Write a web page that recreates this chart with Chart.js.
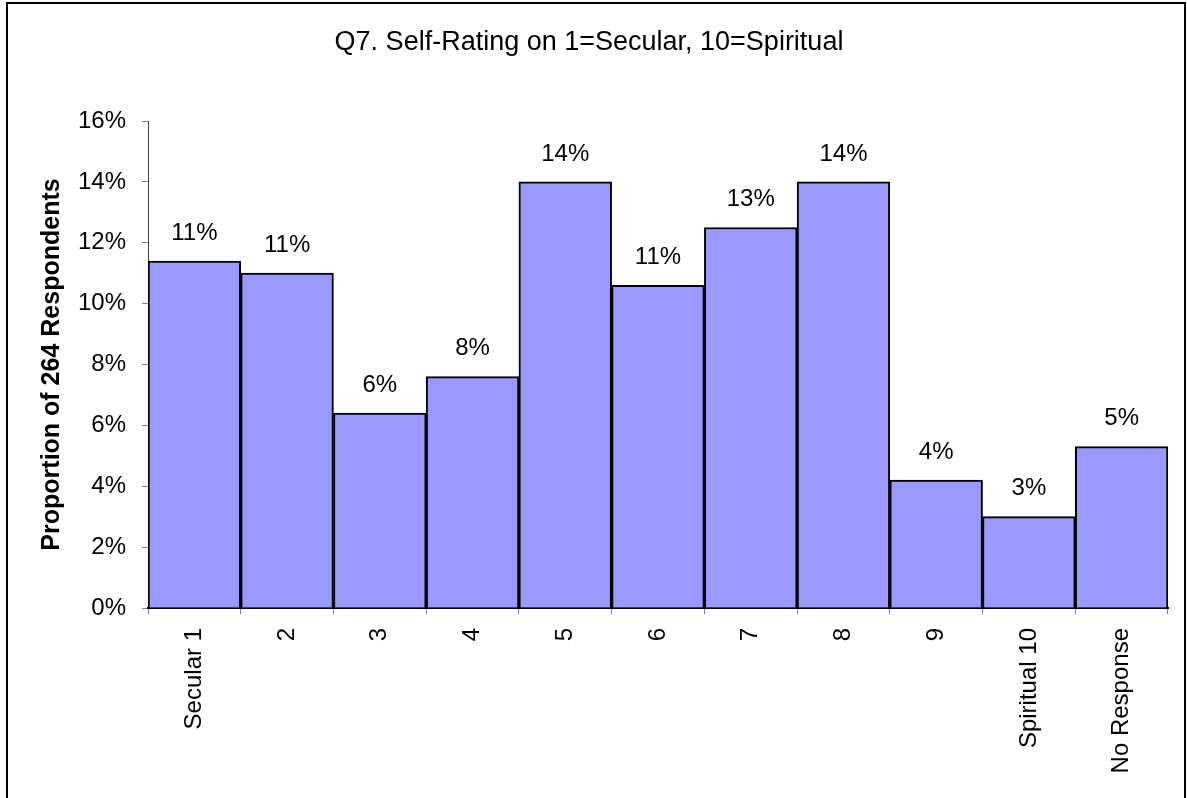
<!DOCTYPE html>
<html>
<head>
<meta charset="utf-8">
<script src="https://cdn.jsdelivr.net/npm/chart.js@4.4.1/dist/chart.umd.min.js"></script>
<style>
    body { margin: 0; background: #fff; }
    #wrap { position: relative; width: 1187px; height: 798px; overflow: hidden; }
    #frame { position: absolute; left: 6px; top: 2px; width: 1176px; height: 820px; border: 2px solid #000; pointer-events: none; }
    canvas { position: absolute; left: 0; top: 0; }
</style>
</head>
<body>
<div id="wrap">
    <canvas id="chart" width="1187" height="798"></canvas>
    <div id="frame"></div>
</div>
<script>
// Q7 self-rating, share of 264 respondents (%)
const categories = ['Secular 1', '2', '3', '4', '5', '6', '7', '8', '9', 'Spiritual 10', 'No Response'];
const shares = [11.4, 11.0, 6.4, 7.6, 14.0, 10.6, 12.5, 14.0, 4.2, 3.0, 5.3];
const yTicks = [0, 2, 4, 6, 8, 10, 12, 14, 16];

const FONT = "'Liberation Sans', Arial, sans-serif";

// value labels above each bar
const barLabels = {
    id: 'barLabels',
    afterDatasetsDraw(chart) {
        const ctx = chart.ctx;
        const meta = chart.getDatasetMeta(0);
        ctx.save();
        ctx.font = '24px ' + FONT;
        ctx.fillStyle = '#000';
        ctx.textAlign = 'center';
        ctx.textBaseline = 'middle';
        meta.data.forEach((bar, i) => {
            ctx.fillText(Math.round(shares[i]) + '%', bar.x, bar.y - 28);
        });
        ctx.restore();
    }
};

new Chart(document.getElementById('chart').getContext('2d'), {
    type: 'bar',
    data: {
        labels: categories,
        datasets: [{
            data: shares,
            backgroundColor: '#9999FF',
            borderColor: '#000',
            borderWidth: 2,
            categoryPercentage: 1,
            barPercentage: 1
        }]
    },
    options: {
        responsive: false,
        animation: false,
        layout: { padding: { left: 10, right: 19, top: 0, bottom: 0 } },
        plugins: {
            legend: { display: false },
            tooltip: { enabled: false },
            title: {
                display: true,
                text: 'Q7. Self-Rating on 1=Secular, 10=Spiritual',
                color: '#000',
                font: { family: FONT, size: 27, weight: 'normal' },
                padding: { top: 26, bottom: 62.6 }
            }
        },
        scales: {
            y: {
                min: 0,
                max: 16,
                afterBuildTicks: axis => { axis.ticks = yTicks.map(v => ({ value: v })); },
                afterFit: axis => { axis.width = 138; },
                border: { color: '#404040', width: 1 },
                grid: { drawOnChartArea: false, drawTicks: true, tickLength: 6, color: '#808080' },
                ticks: {
                    color: '#000',
                    padding: 16,
                    font: { family: FONT, size: 24 },
                    callback: v => v + '%'
                },
                title: {
                    display: true,
                    text: 'Proportion of 264 Respondents',
                    color: '#000',
                    font: { family: FONT, size: 25, weight: 'bold' },
                    padding: { top: 27, bottom: 0 }
                }
            },
            x: {
                afterFit: axis => { axis.height = 190; },
                border: { color: '#000', width: 2 },
                grid: { offset: true, drawOnChartArea: false, drawTicks: true, tickLength: 6, color: '#808080' },
                ticks: {
                    color: '#000',
                    padding: 14,
                    autoSkip: false,
                    minRotation: 90,
                    maxRotation: 90,
                    font: { family: FONT, size: 24 }
                }
            }
        }
    },
    plugins: [barLabels]
});
</script>
</body>
</html>
